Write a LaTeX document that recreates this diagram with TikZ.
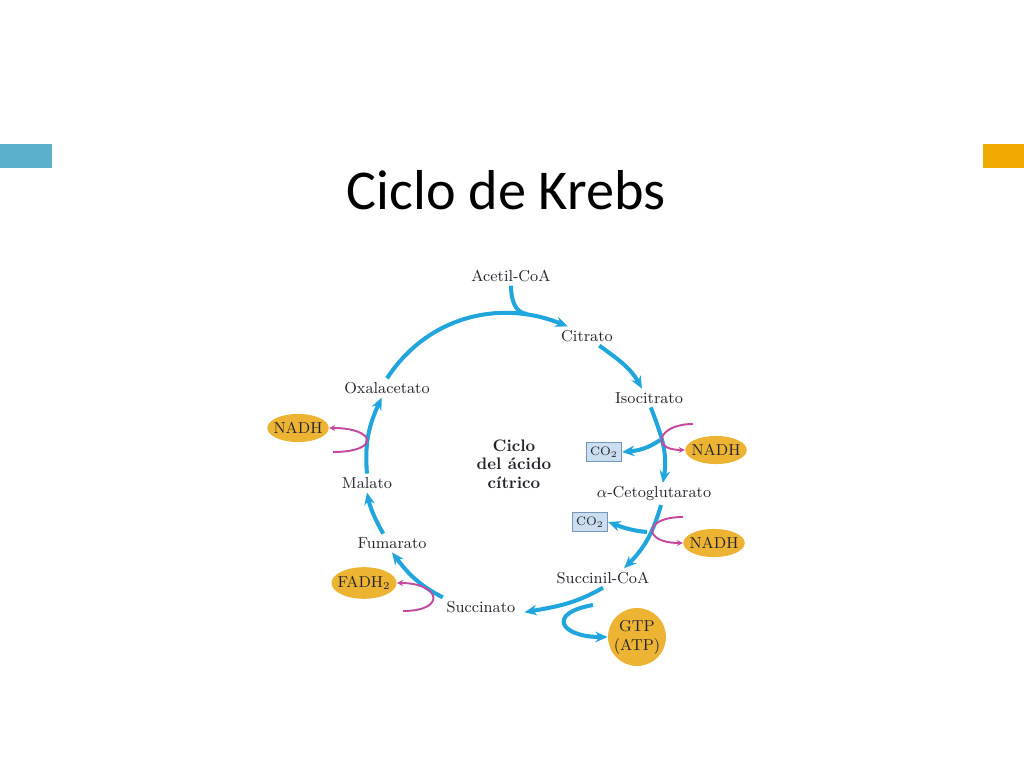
\documentclass[tikz,border=0pt]{standalone}
\usepackage{fontspec}
\newfontfamily\titulofont{Carlito}
\usepackage{xcolor}
\usepackage{tikz}
\usetikzlibrary{arrows.meta, positioning, shapes.geometric}

\definecolor{azul}{RGB}{32,166,220}
\definecolor{morado}{RGB}{196,72,156}
\definecolor{oro}{RGB}{236,180,50}
\definecolor{celeste}{RGB}{202,222,240}
\definecolor{borde}{RGB}{120,150,185}
\definecolor{tinta}{RGB}{35,35,45}
\definecolor{barraazul}{RGB}{91,176,204}
\definecolor{barranaranja}{RGB}{240,170,0}

\tikzset{
	metab/.style={
		font=\fontsize{9}{10}\selectfont,
		text=tinta,
		inner sep=2pt
	},
	coenz/.style={
		ellipse,
		fill=oro,
		text=tinta,
		inner sep=-3pt,
		minimum width=35pt,
		minimum height=16pt,
		font=\fontsize{9}{10}\selectfont
	},
	caja/.style={
		rectangle,
		draw=borde,
		fill=celeste,
		line width=0.6pt,
		minimum width=20pt,
		minimum height=11pt,
		inner sep=1pt,
		text=tinta,
		font=\fontsize{7}{8}\selectfont
	},
	linea/.style={
		color=azul,
		line width=2.3pt
	},
	flecha/.style={
		linea,
		-{Stealth[length=7pt, width=6pt]}
	},
	flechamag/.style={
		color=morado,
		line width=1.1pt,
		-{Stealth[length=3.5pt, width=3.5pt]}
	}
}

\begin{document}
\begin{tikzpicture}[x=0.02cm, y=0.02cm]
	\useasboundingbox (0,0) rectangle (1024,768);
	% Barras
	\fill[
		color=barraazul
	] (0,600) rectangle (52,624);
	\fill[
		color=barranaranja
	] (983,600) rectangle (1024,624);
	% Titulo
	\node[
		font=\titulofont\fontsize{32}{38}\selectfont
	] (titulo) at (506,578) {Ciclo de Krebs};
	% Metabolitos
	\node[metab] (acetil) at (511,492) {Acetil-CoA};
	\node[metab] (citrato) at (587,432) {Citrato};
	\node[metab] (isoc) at (649,370) {Isocitrato};
	\node[metab] (aceto) at (654,274) {$\alpha$-Cetoglutarato};
	\node[metab] (succ) at (603,190) {Succinil-CoA};
	\node[metab] (succinato) at (481,161) {Succinato};
	\node[metab] (fumarato) at (392,225) {Fumarato};
	\node[metab] (malato) at (367,285) {Malato};
	\node[metab] (oxal) at (387,380) {Oxalacetato};
	% Centro
	\node[
		metab,
		font=\bfseries\fontsize{9.5}{10.5}\selectfont,
		align=center
	] (ciclo) at (514,304) {Ciclo\\del ácido\\cítrico};
	% Coenzimas
	\node[coenz] (nadhizq) at (298,340) {NADH};
	\node[coenz] (nadha) at (716,318) {NADH};
	\node[coenz] (nadhb) at (714,225) {NADH};
	\node[
		coenz,
		minimum width=37pt,
		minimum height=18pt
	] (fadh) at (364,185) {FADH$_2$};
	\node[
		coenz,
		minimum width=33pt,
		minimum height=33pt,
		align=center,
		font=\fontsize{9}{10.8}\selectfont
	] (gtp) at (637,131) {GTP\\(ATP)};
	% CO2
	\node[caja] (co2a) at (604,316) {CO$_2$};
	\node[caja] (co2b) at (590,246) {CO$_2$};
	% Puntos libres
	\coordinate (union) at (527,454);
	\coordinate (rama1) at (660,328);
	\coordinate (rama2) at (647,236);
	\coordinate (ramagtp) at (593,163);
	\coordinate (mag1) at (693,344);
	\coordinate (mag2) at (683,251);
	\coordinate (mag3) at (403,157);
	\coordinate (mag4) at (333,316);
	% Ciclo
	\draw[flecha] (oxal.north) to[out=57, in=158] ([xshift=-11pt]citrato.north);
	\draw[linea] (acetil.south) to[out=-90, in=175] (union);
	\draw[flecha] ([xshift=7pt]citrato.south) to[out=-36, in=119] ([xshift=-4pt]isoc.north);
	\draw[flecha] ([xshift=1pt]isoc.south) to[out=-69, in=80] ([xshift=5pt]aceto.north);
	\draw[flecha] ([xshift=4pt]aceto.south) to[out=-106, in=45] ([xshift=12pt]succ.north);
	\draw[flecha] (succ.south) to[out=-150, in=10] ([xshift=3pt, yshift=-3pt]succinato.east);
	\draw[flecha] (succinato.north west) to[out=153, in=-53] (fumarato.south);
	\draw[flecha] ([xshift=-5pt]fumarato.north) to[out=119, in=-78] (malato.south);
	\draw[flecha] (malato.north) to[out=95, in=-115] ([xshift=-3pt]oxal.south);
	% Salidas
	\draw[flecha] (rama1) to[out=-145, in=5] (co2a.east);
	\draw[flecha] (rama2) to[out=175, in=-20] (co2b.east);
	\draw[flecha] (ramagtp) to[out=190, in=180, distance=27pt] (gtp.west);
	\draw[flechamag] (mag1) to[out=180, in=180, distance=20pt] (nadha.west);
	\draw[flechamag] (mag2) to[out=180, in=180, distance=23pt] (nadhb.west);
	\draw[flechamag] (mag3) to[out=0, in=0, distance=25pt] (fadh.east);
	\draw[flechamag] (mag4) to[out=0, in=0, distance=27pt] (nadhizq.east);
\end{tikzpicture}
\end{document}
